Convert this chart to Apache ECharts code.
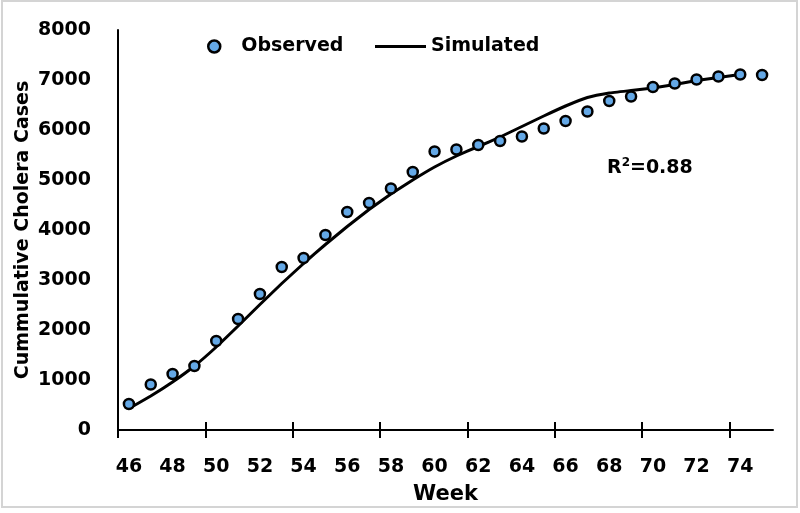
<!DOCTYPE html>
<html>
<head>
<meta charset="utf-8">
<script src="https://cdn.jsdelivr.net/npm/echarts@6/dist/echarts.min.js"></script>
<style>html,body{margin:0;padding:0;background:#fff;}#c{width:800px;height:513px;}</style>
</head>
<body>
<div id="c"></div>
<script>
const weeks = [46,47,48,49,50,51,52,53,54,55,56,57,58,59,60,61,62,63,64,65,66,67,68,69,70,71,72,73,74,75];
const observed = [520,910,1120,1280,1780,2220,2720,3260,3440,3900,4360,4540,4830,5160,5570,5610,5700,5780,5870,6030,6180,6370,6580,6670,6860,6930,7010,7070,7110,7100];
const simulated = [430,680,960,1280,1660,2080,2510,2930,3330,3710,4070,4410,4720,5000,5260,5480,5670,5860,6070,6280,6480,6650,6740,6790,6840,6910,6990,7050,7110,null];
const xTickLabels = [46,48,50,52,54,56,58,60,62,64,66,68,70,72,74];
const xTickMarks = [45.5,49.5,53.5,57.5,61.5,65.5,69.5,73.5];
const seriesNames = ['Observed','Simulated'];
const xTitle = 'Week';
const yTitle = 'Cummulative Cholera Cases';
const r2Label = 'R{s|2}=0.88';

const FONT = 'DejaVu Sans';
const chart = echarts.init(document.getElementById('c'), null, {renderer:'canvas'});
const obsData = weeks.map((w,i)=>[w, observed[i]]);
const simData = weeks.map((w,i)=>[w, simulated[i]]).filter(d=>d[1]!==null);
const legendText = {fontFamily:FONT,fontWeight:'bold',fontSize:19,color:'#000'};

chart.setOption({
  animation:false,
  backgroundColor:'#fff',
  grid:{left:118,right:27,top:30,bottom:83,containLabel:false},
  legend:[
    {data:[{name:seriesNames[0],icon:'circle'}],left:207,top:37,padding:0,itemWidth:12,itemHeight:12,
     itemStyle:{color:'#64a8e6',borderColor:'#000',borderWidth:2.5},
     textStyle:Object.assign({padding:[0,0,0,16]},legendText)},
    {data:[{name:seriesNames[1],icon:'rect'}],left:375,top:37,padding:0,itemWidth:51,itemHeight:3,
     itemStyle:{color:'#000',borderWidth:0},
     textStyle:legendText}
  ],
  xAxis:[
    {type:'value',min:45.5,max:75.5,
     name:xTitle,nameLocation:'middle',nameGap:54,nameMoveOverlap:false,
     nameTextStyle:{fontFamily:FONT,fontWeight:'bold',fontSize:21,color:'#000'},
     axisLine:{show:true,onZero:false,lineStyle:{color:'#000',width:2}},
     axisTick:{show:true,length:8,customValues:xTickMarks,lineStyle:{color:'#000',width:2}},
     axisLabel:{show:true,customValues:xTickLabels,margin:28,fontFamily:FONT,fontWeight:'bold',fontSize:19,color:'#000'},
     splitLine:{show:false}},
    {type:'value',min:45.5,max:75.5,position:'bottom',offset:0,
     axisLine:{show:false,onZero:false},
     axisTick:{show:true,inside:true,length:8,customValues:xTickMarks,lineStyle:{color:'#000',width:2}},
     axisLabel:{show:false},splitLine:{show:false}}
  ],
  yAxis:{type:'value',min:0,max:8000,interval:1000,
    name:yTitle,nameLocation:'middle',nameGap:85,nameRotate:90,nameMoveOverlap:false,
    nameTextStyle:{fontFamily:FONT,fontWeight:'bold',fontSize:19,color:'#000'},
    axisLine:{show:true,lineStyle:{color:'#000',width:2}},
    axisTick:{show:false},
    axisLabel:{margin:27,fontFamily:FONT,fontWeight:'bold',fontSize:19,color:'#000',formatter:function(v){return String(v);}},
    splitLine:{show:false}},
  series:[
    {name:seriesNames[1],type:'line',data:simData,symbol:'none',smooth:0.1,z:2,
     lineStyle:{color:'#000',width:3},itemStyle:{color:'#000'}},
    {name:seriesNames[0],type:'scatter',data:obsData,symbol:'circle',symbolSize:10,z:3,
     itemStyle:{color:'#64a8e6',borderColor:'#000',borderWidth:2.5,opacity:1}}
  ],
  graphic:[
    {type:'rect',shape:{x:2,y:1,width:795,height:506},style:{fill:'none',stroke:'#d4d4d4',lineWidth:2},silent:true},
    {type:'text',left:607,top:157,style:{text:r2Label,fontFamily:FONT,fontWeight:'bold',fontSize:19,fill:'#000',
      rich:{s:{fontFamily:FONT,fontWeight:'bold',fontSize:12,verticalAlign:'top',padding:[0,0,10,0]}}}}
  ]
});
</script>
</body>
</html>
